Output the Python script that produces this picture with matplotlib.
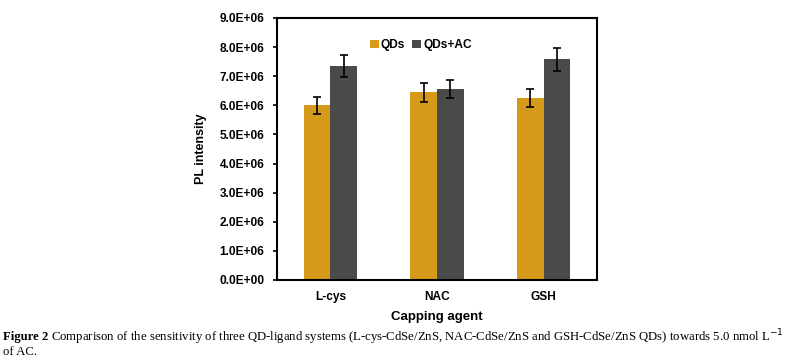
import matplotlib
matplotlib.use('Agg')
import matplotlib.pyplot as plt
import numpy as np

categories = ['L-cys', 'NAC', 'GSH']
qds = [6.0e6, 6.45e6, 6.25e6]
qds_err = [0.3e6, 0.32e6, 0.32e6]
qds_ac = [7.35e6, 6.55e6, 7.58e6]
qds_ac_err = [0.38e6, 0.31e6, 0.4e6]
yticks = np.arange(0, 9.01e6, 1e6)
ytick_labels = ['{:.1f}E+06'.format(v / 1e6) if v > 0 else '0.0E+00' for v in yticks]

plt.rcParams['font.family'] = ['Liberation Sans', 'DejaVu Sans']

fig = plt.figure(figsize=(7.91, 3.64), dpi=100)
ax = fig.add_axes([277 / 791, 1 - 280 / 364, 320 / 791, 262 / 364])

x = np.arange(len(categories))
w = 0.25
err_kw = dict(ecolor='black', elinewidth=1.2, capsize=3, capthick=1.2)
ax.bar(x - w / 2, qds, w, yerr=qds_err, color='#D69A1B', label='QDs', error_kw=err_kw)
ax.bar(x + w / 2, qds_ac, w, yerr=qds_ac_err, color='#4A4A48', label='QDs+AC', error_kw=err_kw)

ax.set_xlim(-0.5, 2.5)
ax.set_ylim(0, 9e6)
ax.set_yticks(yticks)
ax.set_yticklabels(ytick_labels, fontsize=8.6, fontweight='bold')
ax.set_xticks(x)
ax.set_xticklabels(categories, fontsize=8.6, fontweight='bold')
ax.tick_params(axis='x', length=0, pad=8)
ax.tick_params(axis='y', direction='out', length=3, width=1.2, pad=6)
for s in ax.spines.values():
    s.set_linewidth(1.5)
ax.set_ylabel('PL intensity', fontsize=9, fontweight='bold', labelpad=9)
ax.set_xlabel('Capping agent', fontsize=9.5, fontweight='bold', labelpad=6)

leg = ax.legend(loc='upper center', bbox_to_anchor=(0.45, 0.96), ncol=2, frameon=False,
                prop={'size': 8.6, 'weight': 'bold'}, handlelength=0.7, handleheight=0.7,
                handletextpad=0.2, columnspacing=0.6)

# caption
fig.canvas.draw()
r = fig.canvas.get_renderer()
t1 = fig.text(3 / 791, 1 - 337 / 364, 'Figure 2', fontsize=9.2, fontweight='bold',
              family='Liberation Serif', va='center')
bb = t1.get_window_extent(r)
fig.text(bb.x1 / 791 + 3 / 791, 1 - 337 / 364,
         'Comparison of the sensitivity of three QD-ligand systems (L-cys-CdSe/ZnS, NAC-CdSe/ZnS '
         'and GSH-CdSe/ZnS QDs) towards 5.0 nmol L$^{-1}$',
         fontsize=9.2, family='Liberation Serif', va='center')
fig.text(3 / 791, 1 - 352 / 364, 'of AC.', fontsize=9.2, family='Liberation Serif', va='center')

fig.savefig('out.png', dpi=100)
